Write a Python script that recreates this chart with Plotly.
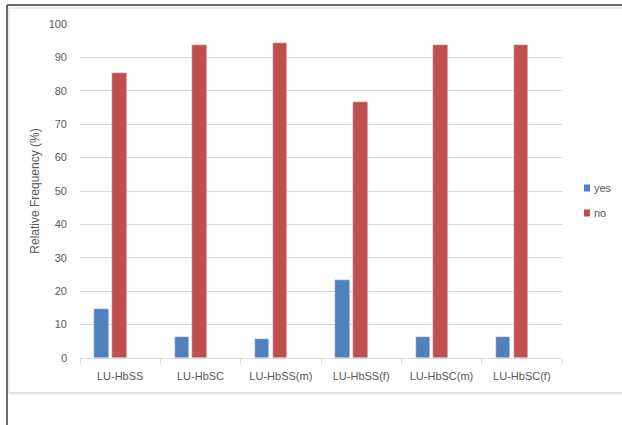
import plotly.graph_objects as go

categories = ["LU-HbSS", "LU-HbSC", "LU-HbSS(m)", "LU-HbSS(f)", "LU-HbSC(m)", "LU-HbSC(f)"]
yes_values = [14.7, 6.3, 5.6, 23.5, 6.3, 6.3]
no_values = [85.3, 93.7, 94.4, 76.5, 93.7, 93.7]
y_ticks = list(range(0, 101, 10))
series_names = ["yes", "no"]

BLUE = "#4f81bd"
RED = "#c0504d"
GRID = "#d9d9d9"
TEXT = "#595959"
FONT = "Liberation Sans"

W, H = 622, 425
ML, MR, MT, MB = 80, 60, 24, 67
PW = W - ML - MR
PH = H - MT - MB


def px_x(x):
    return (x - ML) / PW


def px_y(y):
    return (H - MB - y) / PH


fig = go.Figure()

# clustered columns, offset to the left of each category slot
fig.add_trace(go.Bar(x=categories, y=yes_values, name=series_names[0],
                     marker_color=BLUE, width=0.175, offset=-0.32))
fig.add_trace(go.Bar(x=categories, y=no_values, name=series_names[1],
                     marker_color=RED, width=0.18, offset=-0.10))

shapes = [
    # outer dark frame (top and left)
    dict(type="line", xref="paper", yref="paper", x0=px_x(7), x1=px_x(W + 2),
         y0=px_y(5), y1=px_y(5), line=dict(color="#3a3a3a", width=1.5)),
    dict(type="line", xref="paper", yref="paper", x0=px_x(7), x1=px_x(7),
         y0=px_y(5), y1=px_y(H + 2), line=dict(color="#3a3a3a", width=1.5)),
    # light chart-area border
    dict(type="line", xref="paper", yref="paper", x0=px_x(9), x1=px_x(W + 2),
         y0=px_y(8), y1=px_y(8), line=dict(color=GRID, width=1)),
    dict(type="line", xref="paper", yref="paper", x0=px_x(9), x1=px_x(9),
         y0=px_y(8), y1=px_y(393), line=dict(color=GRID, width=1)),
    dict(type="line", xref="paper", yref="paper", x0=px_x(9), x1=px_x(W + 2),
         y0=px_y(393), y1=px_y(393), line=dict(color=GRID, width=1.5)),
]

# compact legend: small square key with the series name beside it
annotations = []
for i, (name, color) in enumerate(zip(series_names, [BLUE, RED])):
    cy = 188 + 25 * i
    shapes.append(dict(type="rect", xref="paper", yref="paper",
                       x0=px_x(584), x1=px_x(590), y0=px_y(cy - 3.5), y1=px_y(cy + 3.5),
                       fillcolor=color, line=dict(width=0)))
    annotations.append(dict(xref="paper", yref="paper", x=px_x(592), y=px_y(cy),
                            xanchor="left", yanchor="middle", showarrow=False,
                            text=name, font=dict(size=11, color=TEXT)))

fig.update_layout(
    width=W, height=H,
    margin=dict(l=ML, r=MR, t=MT, b=MB, autoexpand=False),
    paper_bgcolor="white", plot_bgcolor="white",
    font=dict(family=FONT, size=11, color=TEXT),
    bargap=0,
    showlegend=False,
    shapes=shapes,
    annotations=annotations,
    xaxis=dict(type="category", showgrid=False, showline=True, linecolor=GRID,
               linewidth=1, ticks="outside", tickson="boundaries", ticklen=5,
               tickcolor=GRID, tickfont=dict(size=11, color=TEXT),
               ticklabelstandoff=8, fixedrange=True),
    yaxis=dict(range=[0, 100], tickvals=y_ticks, showgrid=True, gridcolor=GRID,
               gridwidth=1, zeroline=False, showline=False, ticks="",
               tickfont=dict(size=11, color=TEXT), ticklabelstandoff=12,
               title=dict(text="Relative Frequency (%)", standoff=6,
                          font=dict(size=12, color=TEXT))),
)

fig.write_html("out.html")
